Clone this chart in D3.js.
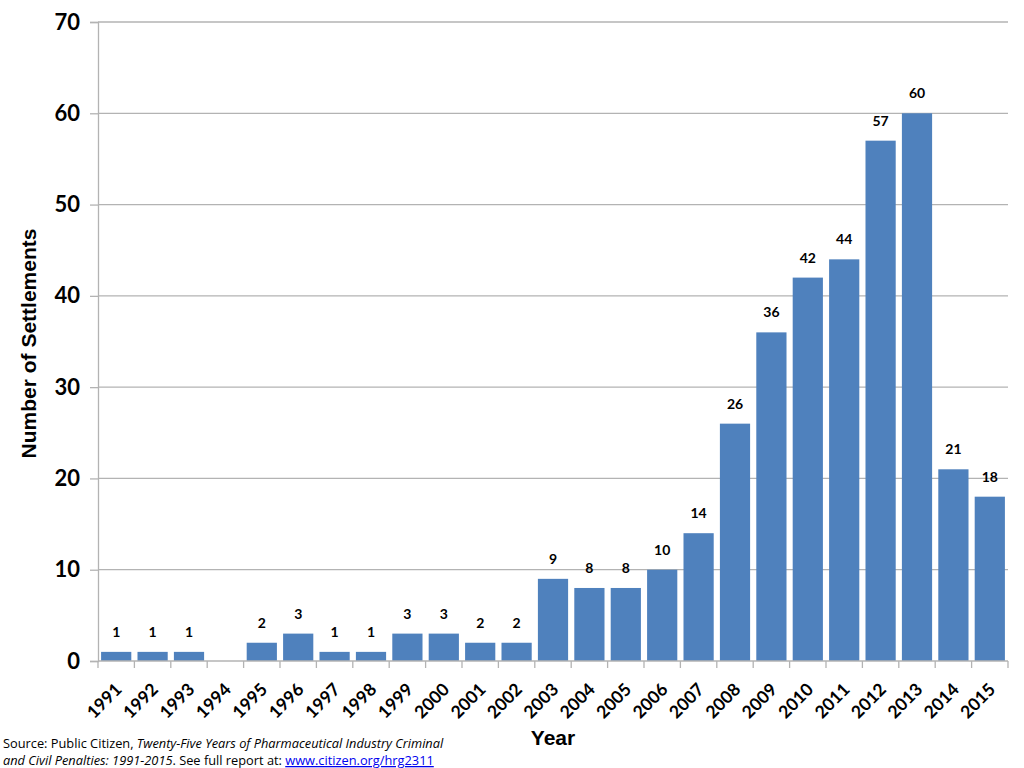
<!DOCTYPE html>
<html><head><meta charset="utf-8">
<script src="https://cdn.jsdelivr.net/npm/d3@7"></script>
<style>body{margin:0;background:#fff}svg{display:block}</style>
</head><body>
<svg id="c" width="1024" height="768"></svg>
<script>
const years = ["1991","1992","1993","1994","1995","1996","1997","1998","1999","2000","2001","2002","2003","2004","2005","2006","2007","2008","2009","2010","2011","2012","2013","2014","2015"];
const settlements = [1,1,1,0,2,3,1,1,3,3,2,2,9,8,8,10,14,26,36,42,44,57,60,21,18];
const yTicks = [0,10,20,30,40,50,60,70];

const svg = d3.select("#c");
const L = 98, R = 1008, T = 22, B = 661;
const x = d3.scaleBand().domain(years).range([L, R]).paddingInner(0.17).paddingOuter(0.085);
const y = d3.scaleLinear().domain([0, 70]).range([B, T]);

// gridlines
svg.append("g").selectAll("line").data(yTicks.filter(d => d > 0)).join("line")
  .attr("x1", L).attr("x2", R).attr("y1", d => y(d)).attr("y2", d => y(d))
  .attr("stroke", "#b3b3b3").attr("stroke-width", 1.3);

// y axis
const ya = svg.append("g").attr("transform", `translate(${L},0)`)
  .call(d3.axisLeft(y).tickValues(yTicks).tickSize(8).tickPadding(10));
ya.select(".domain").attr("stroke", "#b3b3b3").attr("stroke-width", 1.3);
ya.selectAll(".tick line").attr("stroke", "#b3b3b3").attr("stroke-width", 1.3);
ya.selectAll("text").attr("font-family", "Lato, 'Open Sans', sans-serif").attr("font-weight", "bold")
  .attr("font-size", 22).attr("fill", "#000");

// bars
svg.append("g").selectAll("rect").data(years).join("rect")
  .attr("x", d => x(d)).attr("width", x.bandwidth())
  .attr("y", (d, i) => y(settlements[i])).attr("height", (d, i) => B - y(settlements[i]))
  .attr("fill", "#4f81bd");

// x axis
const xBound = d3.scaleLinear().domain([0, years.length]).range([L, R]);
const xa = svg.append("g");
xa.append("line").attr("x1", L).attr("x2", R).attr("y1", B).attr("y2", B)
  .attr("stroke", "#b3b3b3").attr("stroke-width", 1.3);
xa.selectAll("line.t").data(d3.range(years.length + 1)).join("line").attr("class", "t")
  .attr("x1", d => xBound(d)).attr("x2", d => xBound(d)).attr("y1", B).attr("y2", B + 7)
  .attr("stroke", "#b3b3b3").attr("stroke-width", 1.3);
xa.selectAll("text").data(years).join("text")
  .attr("transform", d => `translate(${x(d) + x.bandwidth() / 2 - 2},${B + 21}) rotate(-45)`)
  .attr("text-anchor", "end").attr("dy", "0.7em")
  .attr("font-family", "Lato, 'Open Sans', sans-serif").attr("font-weight", "bold").attr("font-size", 17.5)
  .text(d => d);

// value labels
svg.append("g").selectAll("text").data(years.map((d, i) => [d, settlements[i]]).filter(d => d[1] > 0)).join("text")
  .attr("x", d => x(d[0]) + x.bandwidth() / 2).attr("y", d => y(d[1]) - 15)
  .attr("text-anchor", "middle")
  .attr("font-family", "Lato, 'Open Sans', sans-serif").attr("font-weight", "bold").attr("font-size", 14)
  .text(d => d[1]);

// axis titles
svg.append("text").attr("transform", `translate(36,${(T + B) / 2 + 2}) rotate(-90)`)
  .attr("text-anchor", "middle").attr("font-family", "'Liberation Sans', Arial, sans-serif")
  .attr("font-weight", "bold").attr("font-size", 21).text("Number of Settlements");
svg.append("text").attr("x", 553).attr("y", 745).attr("text-anchor", "middle")
  .attr("font-family", "'Liberation Sans', Arial, sans-serif")
  .attr("font-weight", "bold").attr("font-size", 21).text("Year");

// source
const src = svg.append("g").attr("font-family", "'Open Sans', Lato, sans-serif").attr("font-size", 12.8);
const t1 = src.append("text").attr("x", 3).attr("y", 748);
t1.append("tspan").text("Source: Public Citizen, ");
t1.append("tspan").attr("font-style", "italic").text("Twenty-Five Years of Pharmaceutical Industry Criminal");
const t2 = src.append("text").attr("x", 3).attr("y", 765);
t2.append("tspan").attr("font-style", "italic").text("and Civil Penalties: 1991-2015");
t2.append("tspan").text(". See full report at: ");
t2.append("tspan").attr("fill", "#0000ee").attr("text-decoration", "underline").text("www.citizen.org/hrg2311");
</script>
</body></html>
